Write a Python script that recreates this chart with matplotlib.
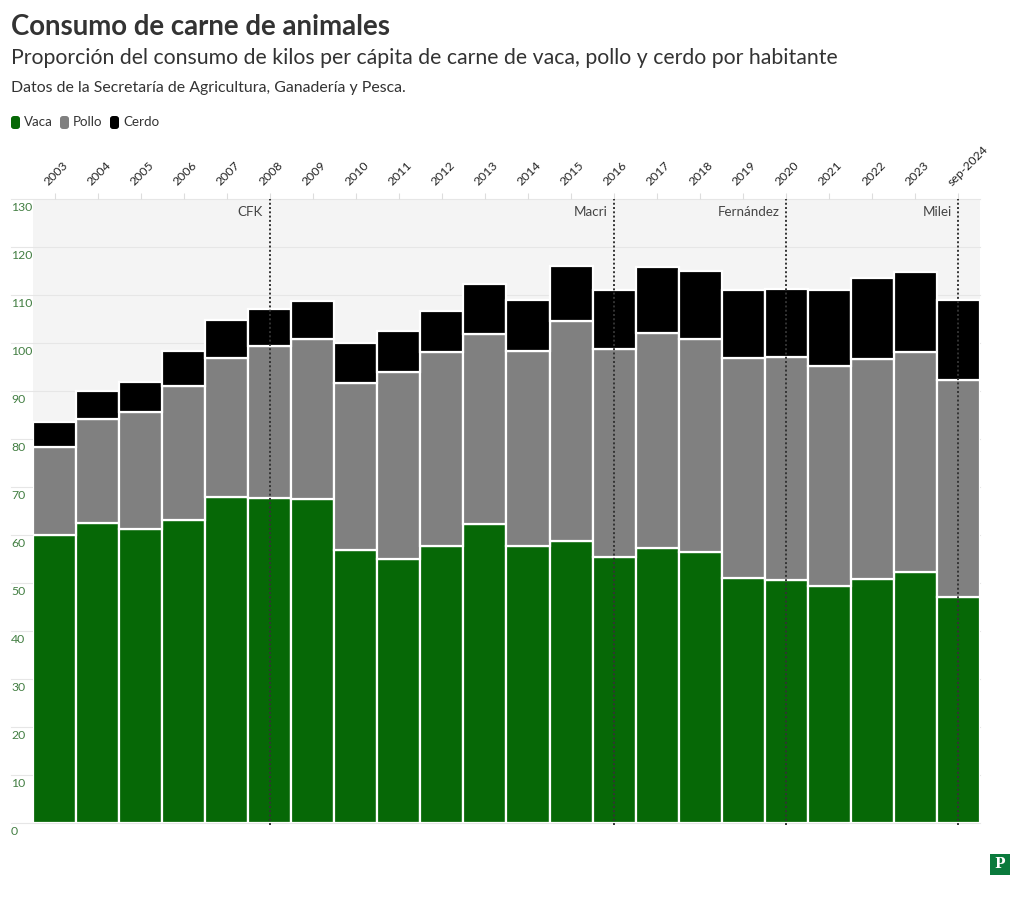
import matplotlib
matplotlib.use("Agg")
import matplotlib.pyplot as plt
from matplotlib.patches import FancyBboxPatch
from matplotlib.transforms import ScaledTranslation
import numpy as np

plt.rcParams['font.family'] = ['Lato', 'DejaVu Sans']

categories = ['2003', '2004', '2005', '2006', '2007', '2008', '2009', '2010', '2011', '2012',
              '2013', '2014', '2015', '2016', '2017', '2018', '2019', '2020', '2021', '2022',
              '2023', 'sep-2024']
vaca = [59.9, 62.6, 61.3, 63.1, 67.9, 67.8, 67.4, 56.8, 55.0, 57.8, 62.2, 57.8, 58.7, 55.5,
        57.3, 56.5, 51.1, 50.6, 49.4, 50.8, 52.2, 47.1]
pollo = [18.4, 21.6, 24.3, 27.9, 29.0, 31.5, 33.4, 34.9, 39.0, 40.3, 39.7, 40.5, 45.9, 43.2,
         44.8, 44.4, 45.7, 46.4, 45.9, 45.9, 46.0, 45.1]
cerdo = [5.3, 5.7, 6.2, 7.4, 7.9, 7.7, 8.0, 8.2, 8.6, 8.6, 10.4, 10.6, 11.4, 12.3, 13.7, 14.1,
         14.2, 14.3, 15.7, 16.8, 16.6, 16.8]
series_names = ['Vaca', 'Pollo', 'Cerdo']
series_colors = ['#066806', '#808080', '#000000']
y_ticks = list(range(0, 131, 10))
events = [('2008', 'CFK'), ('2016', 'Macri'), ('2020', 'Fernández'), ('sep-2024', 'Milei')]

W, H = 1020, 907
fig = plt.figure(figsize=(W / 100, H / 100), dpi=100)
L, R, T, B = 33, 980, 199, 823
ax = fig.add_axes([L / W, 1 - B / H, (R - L) / W, (B - T) / H])
ax.set_facecolor('#f4f4f4')
for s in ax.spines.values():
    s.set_visible(False)

x = np.arange(len(categories))
v = np.array(vaca); p = np.array(pollo); c = np.array(cerdo)
ax.bar(x, v, width=1.0, color=series_colors[0], edgecolor='white', linewidth=1.6, zorder=3)
ax.bar(x, p, bottom=v, width=1.0, color=series_colors[1], edgecolor='white', linewidth=1.6, zorder=3)
ax.bar(x, c, bottom=v + p, width=1.0, color=series_colors[2], edgecolor='white', linewidth=1.6, zorder=3)

ax.set_xlim(-0.5, len(categories) - 0.5)
ax.set_ylim(0, 130)

# gridlines extending into label area
xl = (11 - L) / (R - L)
for yv in y_ticks:
    ax.plot([xl, 1], [yv, yv], transform=ax.get_yaxis_transform(), color='#e6e6e6',
            lw=0.8, clip_on=False, zorder=1)
    ax.text(xl, yv - 1.7, str(yv), transform=ax.get_yaxis_transform(), ha='left',
            va='center', fontsize=8.8, color='#437f43')
ax.set_yticks([])

# x ticks on top
ax.xaxis.tick_top()
ax.set_xticks(x)
ax.set_xticklabels(categories, rotation=45, ha='left', va='bottom', rotation_mode='anchor',
                   fontsize=8.8, color='#222222')
ax.tick_params(axis='x', length=4.5, width=0.8, color='#dddddd', pad=3.5)
off = ScaledTranslation(-5 / 100, 0, fig.dpi_scale_trans)
for lab in ax.get_xticklabels():
    lab.set_transform(lab.get_transform() + off)

# event lines
for cat, name in events:
    i = categories.index(cat)
    ax.axvline(i, ymin=-0.004, ymax=1, color='#333333', linestyle=(0, (1, 1.2)), lw=1.4,
               zorder=4, clip_on=False)
    ax.text(i - 0.16, 127.3, name, ha='right', va='center', fontsize=9.6, color='#444444',
            zorder=5)

# titles
def fy(py):
    return 1 - py / H

fig.text(11 / W, fy(27), 'Consumo de carne de animales', fontsize=19.9, fontweight='bold',
         color='#333333', ha='left', va='center')
fig.text(11 / W, fy(58), 'Proporción del consumo de kilos per cápita de carne de vaca, pollo y cerdo por habitante',
         fontsize=15.3, color='#333333', ha='left', va='center')
fig.text(11 / W, fy(88), 'Datos de la Secretaría de Agricultura, Ganadería y Pesca.',
         fontsize=11.4, color='#333333', ha='left', va='center')

# legend
leg_x = [11, 60, 110]
for lx, name, col in zip(leg_x, series_names, series_colors):
    patch = FancyBboxPatch((lx / W, fy(129)), 9 / W, 13 / H,
                           boxstyle='round,pad=0,rounding_size=0.003',
                           transform=fig.transFigure, facecolor=col, edgecolor='none')
    fig.patches.append(patch)
    fig.text((lx + 13) / W, fy(122.5), name, fontsize=9.6, color='#333333', ha='left',
             va='center')

# logo
logo = FancyBboxPatch((990 / W, fy(875)), 20 / W, 21 / H, boxstyle='square,pad=0',
                      transform=fig.transFigure, facecolor='#0a7a3c', edgecolor='none')
fig.patches.append(logo)
fig.text(1000 / W, fy(864.5), 'P', fontsize=10, fontweight='bold', family='DejaVu Serif',
         color='white', ha='center', va='center')

fig.savefig('out.png', dpi=100, facecolor='white')
